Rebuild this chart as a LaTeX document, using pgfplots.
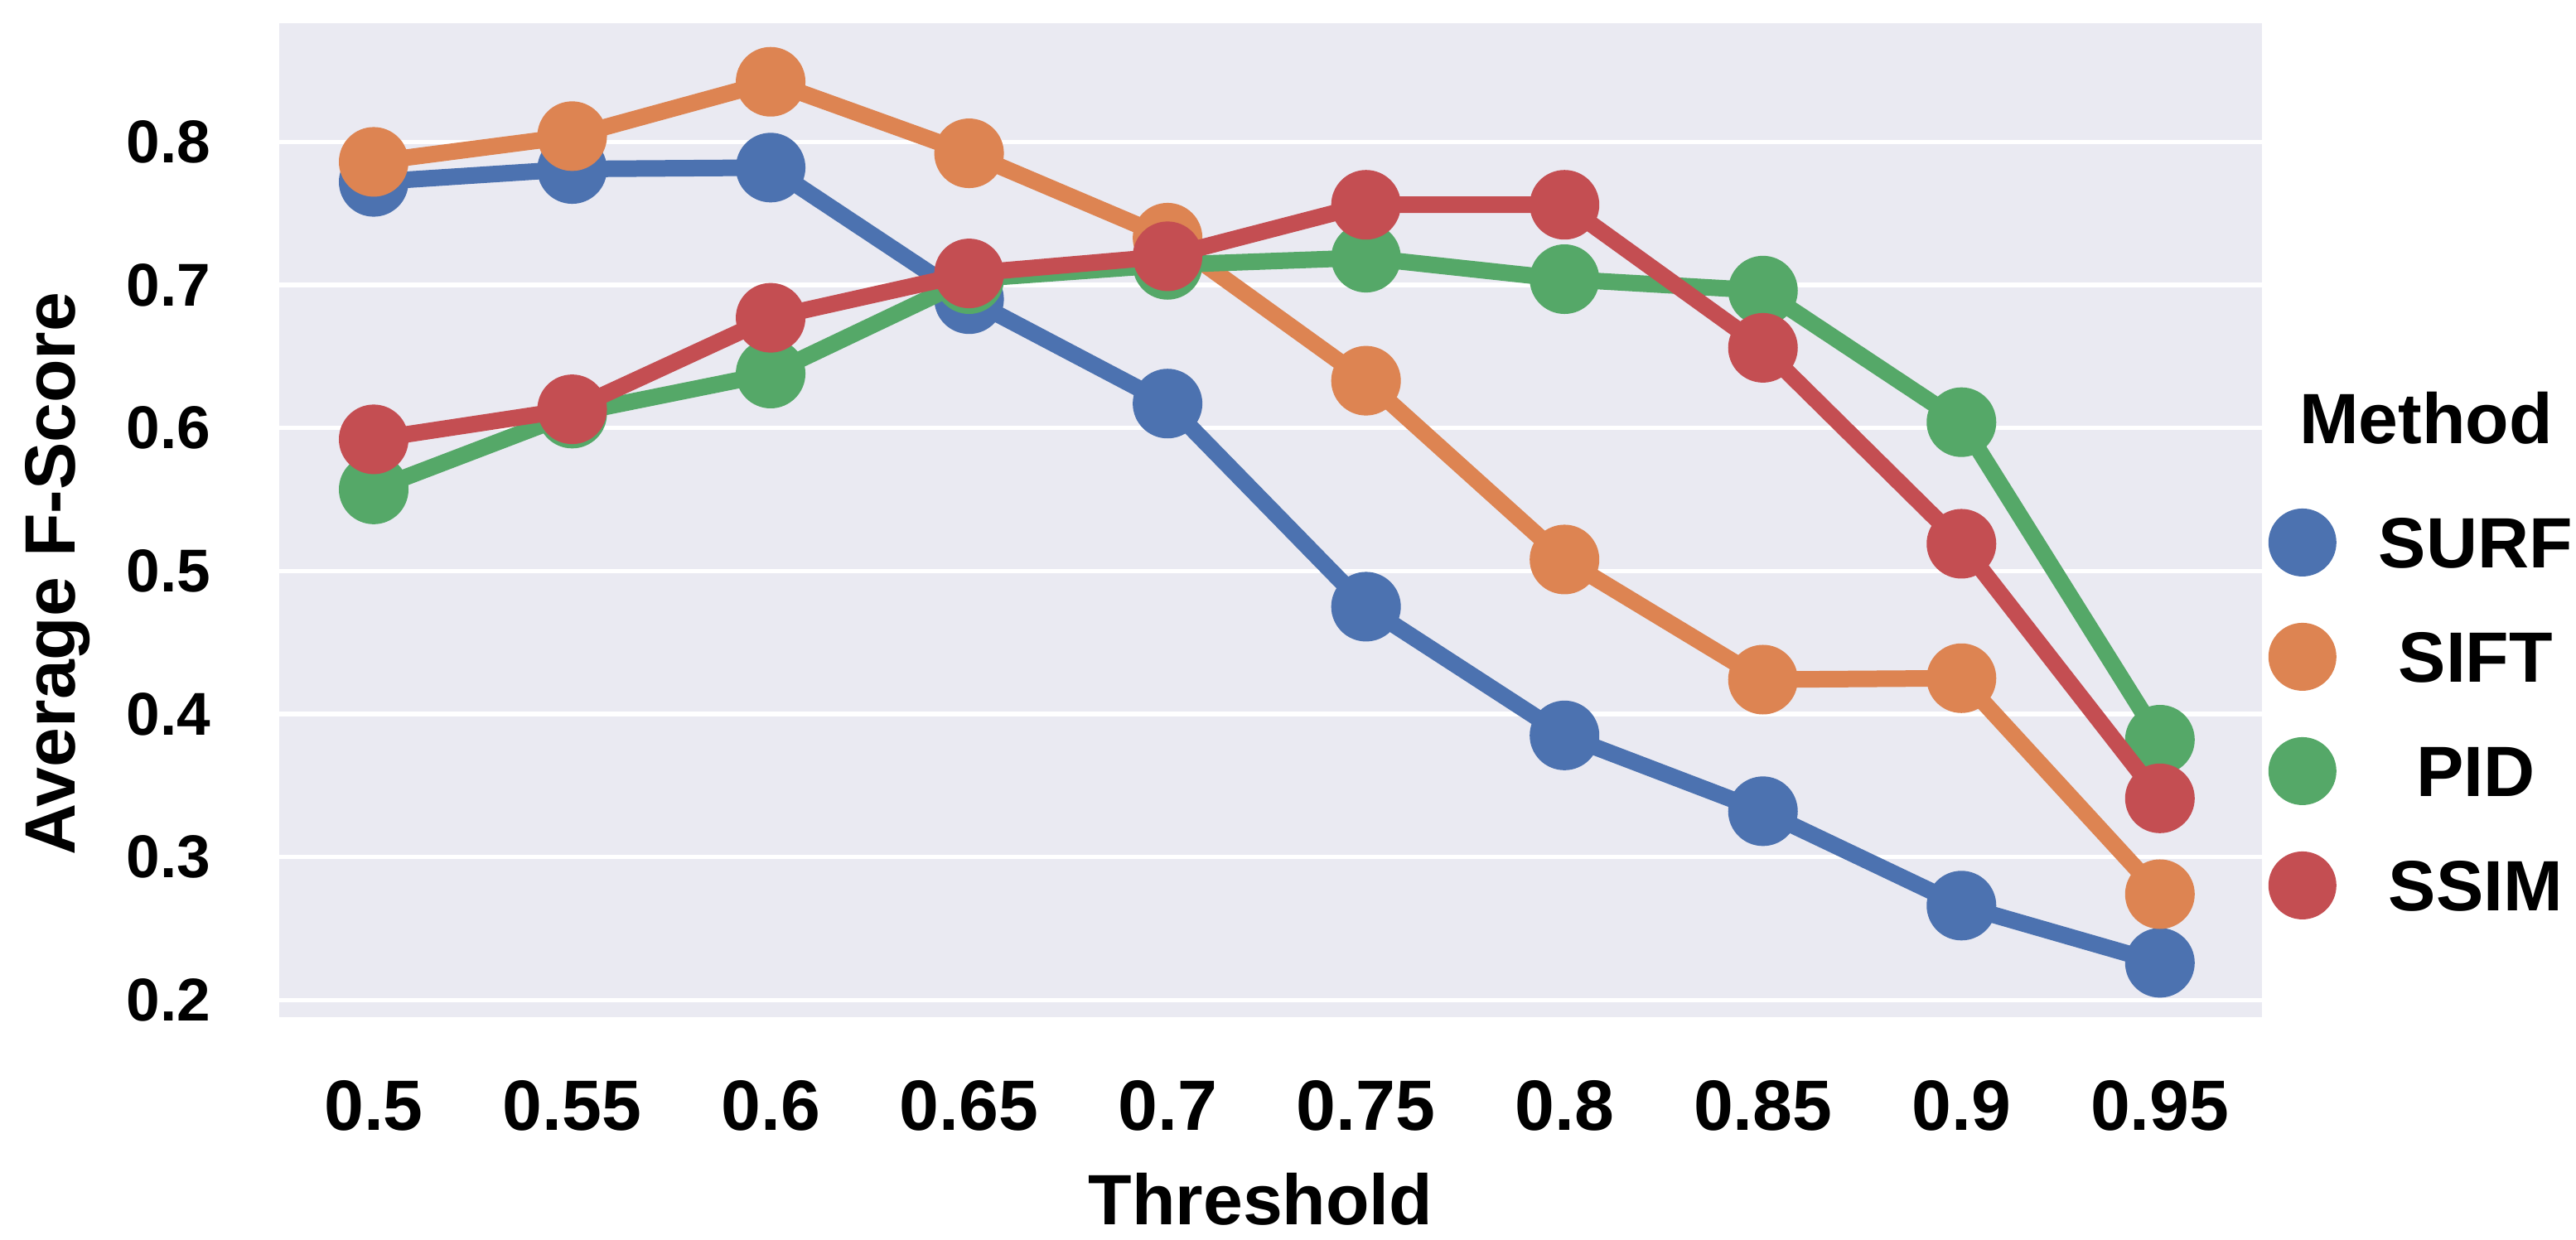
\documentclass[border=0pt]{standalone}
\usepackage{fontspec}
\setmainfont{Liberation Sans}
\usepackage{pgfplots}
\usepackage{pgfplotstable}
\pgfplotsset{compat=1.18}

\definecolor{bgc}{HTML}{EAEAF2}
\definecolor{cSURF}{HTML}{4C72B0}
\definecolor{cSIFT}{HTML}{DD8452}
\definecolor{cPID}{HTML}{55A868}
\definecolor{cSSIM}{HTML}{C44E52}

\newcommand{\bigf}{\fontsize{8.6}{10}\selectfont\bfseries}
\newcommand{\smallf}{\fontsize{7.3}{9}\selectfont\bfseries}

% threshold index: 0 -> 0.5, 1 -> 0.55, ... 9 -> 0.95
\pgfplotstableread{
idx SURF  SIFT  PID   SSIM
0   0.772 0.786 0.557 0.592
1   0.781 0.804 0.610 0.613
2   0.782 0.842 0.638 0.677
3   0.690 0.792 0.704 0.708
4   0.617 0.733 0.714 0.720
5   0.475 0.633 0.719 0.756
6   0.385 0.508 0.704 0.756
7   0.332 0.424 0.696 0.656
8   0.266 0.425 0.604 0.519
9   0.226 0.274 0.382 0.341
}\fscore

\begin{document}
\begin{tikzpicture}
\begin{axis}[
  scale only axis,
  width=239.3pt, height=120pt,
  xmin=-0.476, xmax=9.514,
  ymin=0.188, ymax=0.883,
  clip mode=individual,
  axis background/.style={fill=bgc},
  axis line style={draw=none},
  major tick length=0pt,
  xtick={0,...,9},
  xticklabels={0.5,0.55,0.6,0.65,0.7,0.75,0.8,0.85,0.9,0.95},
  ytick={0.2,0.3,0.4,0.5,0.6,0.7,0.8},
  yticklabels={0.2,0.3,0.4,0.5,0.6,0.7,0.8},
  ymajorgrids,
  grid style={white, line width=0.55pt},
  x tick label style={font=\bigf, anchor=north, inner sep=0pt, yshift=-7.4pt},
  y tick label style={font=\smallf, anchor=east, inner sep=0pt, xshift=-8.1pt},
  xlabel={Threshold},
  ylabel={Average F-Score},
  xlabel style={at={(rel axis cs:0.495,-0.155)}, anchor=north, inner sep=0pt, font=\bigf},
  ylabel style={at={(rel axis cs:-0.1291,0.446)}, anchor=north, inner sep=0pt, font=\bigf},
  every axis plot/.append style={line width=2pt, mark=*, mark size=3.2pt, mark options={solid}},
  legend cell align=center,
  legend image code/.code={\fill[#1] (0pt,0pt) circle (3.1pt);},
  legend style={at={(rel axis cs:1.0033,0.5117)}, anchor=north west,
    draw=none, fill=none, inner sep=0pt, outer sep=0pt,
    row sep=5.6pt, column sep=5.1pt,
    nodes={inner sep=0pt, font=\bigf, text height=6.2pt, text depth=0pt}},
]
\addplot[color=cSURF] table[x=idx, y=SURF] {\fscore};
\addplot[color=cSIFT] table[x=idx, y=SIFT] {\fscore};
\addplot[color=cPID]  table[x=idx, y=PID]  {\fscore};
\addplot[color=cSSIM] table[x=idx, y=SSIM] {\fscore};
\legend{SURF,SIFT,PID,SSIM}
\node[font=\bigf, anchor=base, inner sep=0pt] at (rel axis cs:1.0828,0.5767) {Method};
\end{axis}
\pgfresetboundingbox
\path[use as bounding box] (-33.7pt,-26.9pt) rectangle (277.2pt,122.8pt);
\end{tikzpicture}
\end{document}
